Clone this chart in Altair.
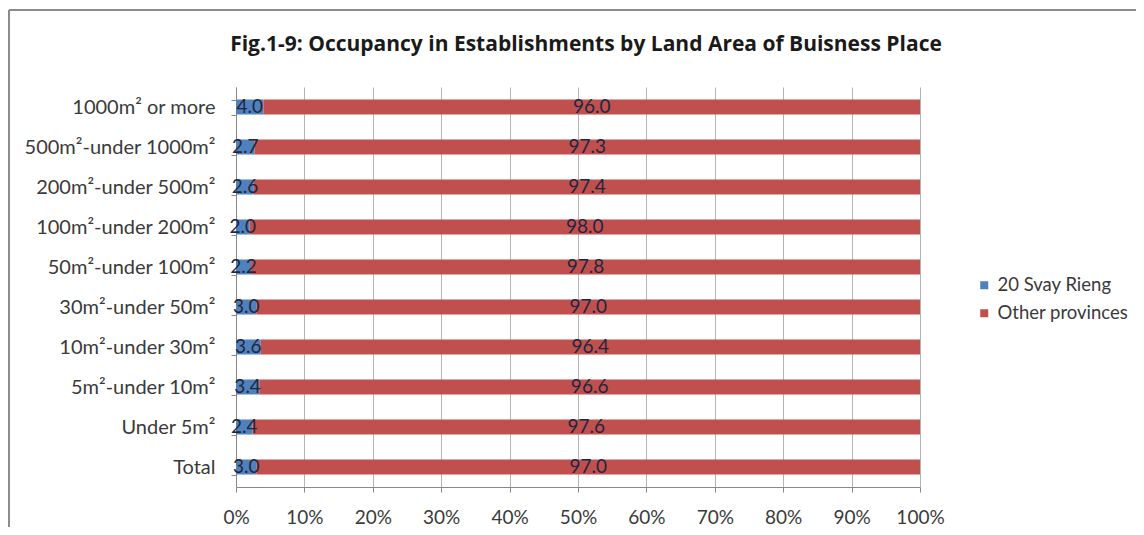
import altair as alt
import pandas as pd

categories = ["1000m\u00b2 or more", "500m\u00b2-under 1000m\u00b2", "200m\u00b2-under 500m\u00b2",
              "100m\u00b2-under 200m\u00b2", "50m\u00b2-under 100m\u00b2", "30m\u00b2-under 50m\u00b2",
              "10m\u00b2-under 30m\u00b2", "5m\u00b2-under 10m\u00b2", "Under 5m\u00b2", "Total"]
svay_rieng = [4.0, 2.7, 2.6, 2.0, 2.2, 3.0, 3.6, 3.4, 2.4, 3.0]
other_provinces = [96.0, 97.3, 97.4, 98.0, 97.8, 97.0, 96.4, 96.6, 97.6, 97.0]
series = ["20 Svay Rieng", "Other provinces"]
colors = ["#4F81BD", "#C0504D"]
x_ticks = [0, 10, 20, 30, 40, 50, 60, 70, 80, 90, 100]

rows = []
for c, a, b in zip(categories, svay_rieng, other_provinces):
    rows.append({"cat": c, "series": series[0], "value": a, "ord": 0})
    rows.append({"cat": c, "series": series[1], "value": b, "ord": 1})
df = pd.DataFrame(rows)

FONT = "Lato"
TXT = "#3a3a3a"

base = alt.Chart(df).transform_stack(
    stack="value", groupby=["cat"], as_=["x0", "x1"], sort=[alt.SortField("ord")]
).transform_calculate(mid="(datum.x0 + datum.x1) / 2")

y_enc = alt.Y("cat:N", sort=categories, title=None,
              scale=alt.Scale(paddingInner=0.625, paddingOuter=0.3125),
              axis=alt.Axis(labelFont=FONT, labelFontSize=20, labelColor=TXT,
                            tickBand="extent", tickSize=5, tickColor="#888888",
                            domainColor="#888888", labelPadding=16, labelLimit=300))

bars = base.mark_bar().encode(
    y=y_enc,
    x=alt.X("x0:Q", title=None,
            scale=alt.Scale(domain=[0, 100], nice=False),
            axis=alt.Axis(values=x_ticks, labelExpr="datum.value + '%'",
                          labelFont=FONT, labelFontSize=19, labelColor=TXT,
                          labelFlush=False,
                          tickSize=5, tickColor="#888888", domainColor="#888888",
                          gridColor="#b5b5b5", labelPadding=16)),
    x2="x1:Q",
    color=alt.Color("series:N", scale=alt.Scale(domain=series, range=colors),
                    legend=alt.Legend(title=None, orient="none", legendX=739, legendY=189,
                                      symbolType="square", symbolSize=64, symbolStrokeWidth=0,
                                      labelFont=FONT, labelFontSize=18.5, labelColor=TXT,
                                      labelOffset=4, rowPadding=9, padding=0)),
)

labels = base.mark_text(font=FONT, fontSize=19, color="#1f2640").encode(
    y=alt.Y("cat:N", sort=categories),
    x=alt.X("mid:Q"),
    text=alt.Text("value:Q", format=".1f"),
)

frame_color = "#8c8c8c"
frame = [
    alt.Chart(df).mark_rule(color=frame_color, strokeWidth=2).encode(
        x=alt.value(-227), x2=alt.value(902), y=alt.value(-77)),
    alt.Chart(df).mark_rule(color=frame_color, strokeWidth=2).encode(
        x=alt.value(-227), y=alt.value(-77), y2=alt.value(470)),
    alt.Chart(df).mark_rule(color=frame_color, strokeWidth=2).encode(
        x=alt.value(902), y=alt.value(-77), y2=alt.value(470)),
]

chart = alt.layer(bars, labels, *frame).properties(
    width=684, height=400,
    title=alt.Title("Fig.1-9: Occupancy in Establishments by Land Area of Buisness Place",
                    font="Open Sans", fontSize=21, fontWeight="bold", color="#1a1a1a",
                    anchor="middle", offset=-46, dx=8),
    autosize=alt.AutoSizeParams(type="none"),
    padding={"left": 228, "top": 79, "right": 216, "bottom": 40},
).configure_view(stroke=None).configure_axis(gridWidth=1)

chart.save("out.html", embed_options={"renderer": "svg", "actions": False})
